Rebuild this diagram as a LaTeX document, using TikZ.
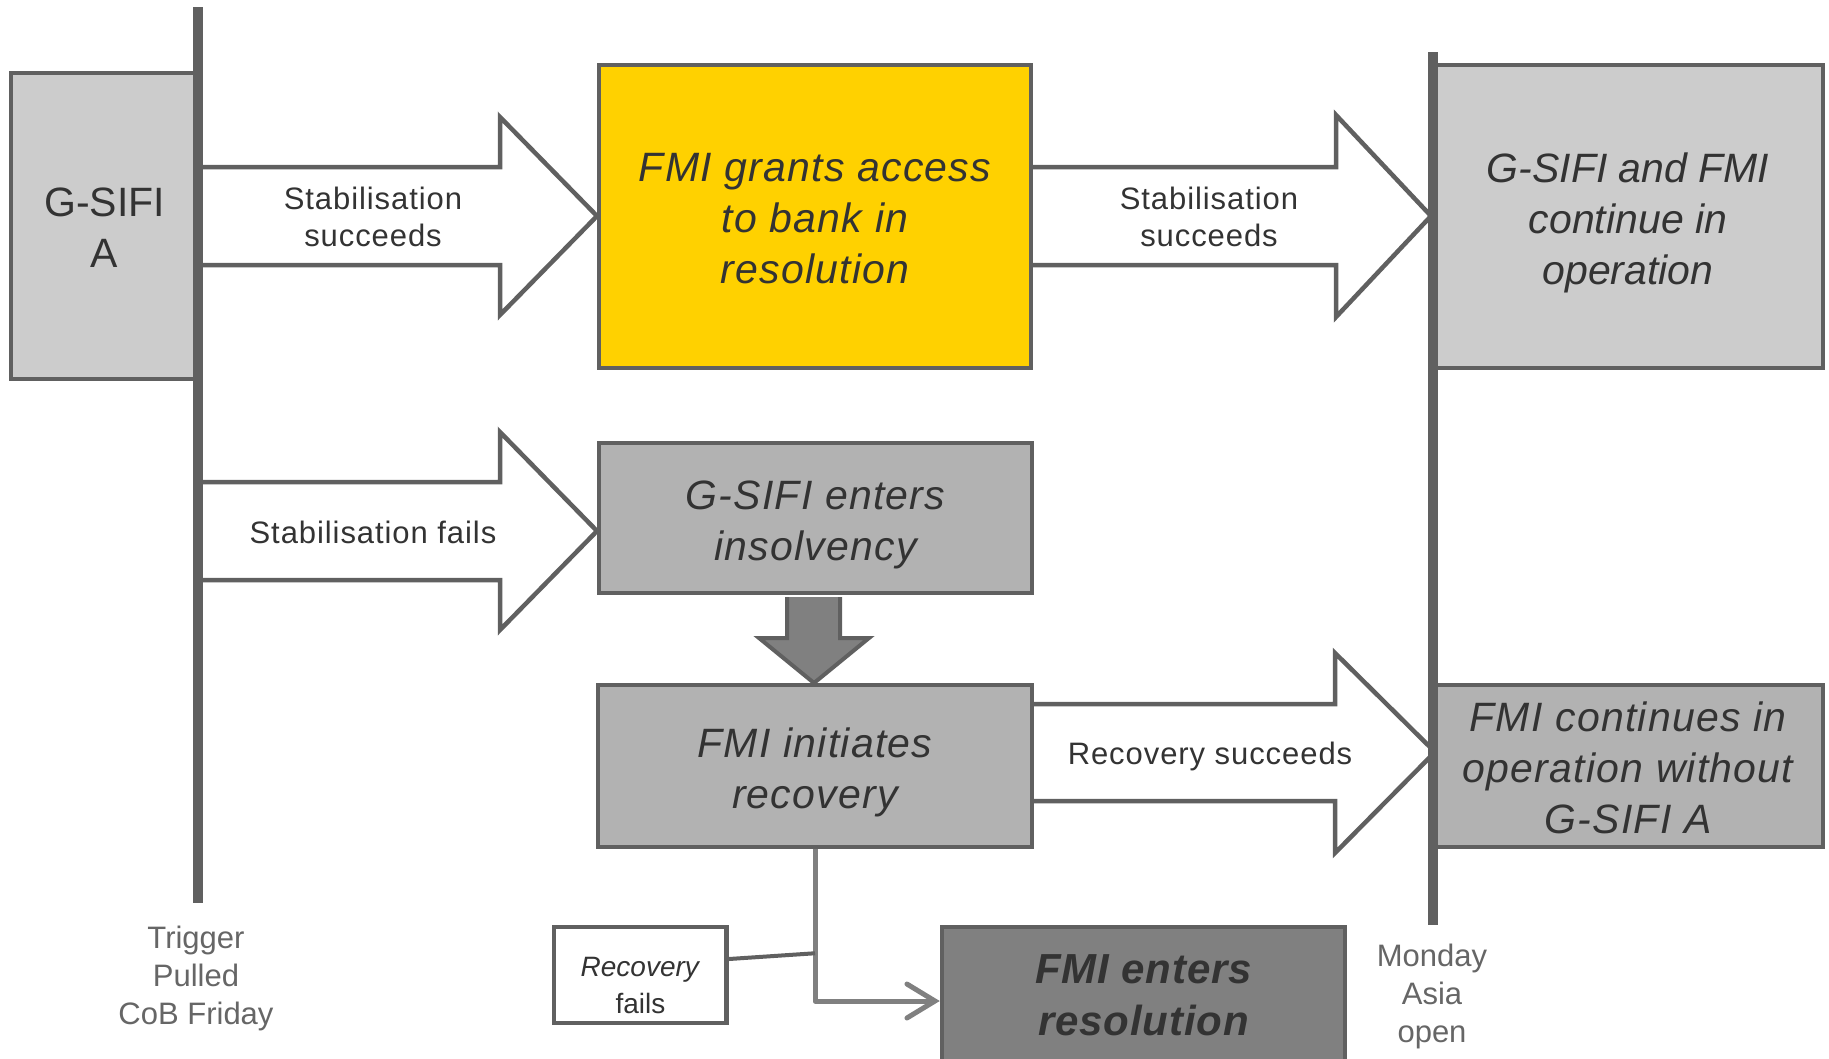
\documentclass[tikz,border=0pt]{standalone}
\usepackage{fontspec}
\setmainfont{Liberation Sans}
\usetikzlibrary{arrows.meta,calc}
\definecolor{edge}{HTML}{606060}
\definecolor{lightfill}{HTML}{CCCCCC}
\definecolor{midfill}{HTML}{B2B2B2}
\definecolor{darkfill}{HTML}{808080}
\definecolor{goldfill}{HTML}{FFD100}
\definecolor{txt}{HTML}{333333}
\definecolor{softtxt}{HTML}{666666}
\definecolor{linkgray}{HTML}{808080}
\begin{document}
\begin{tikzpicture}[x=1pt,y=-1pt,
  box/.style={draw=edge, line width=4.5pt, inner sep=0pt},
  boxtext/.style={text=txt, align=center, inner sep=0pt,
    font=\fontsize{41}{51}\selectfont\itshape\addfontfeature{LetterSpace=3}},
  blockarrow/.style={draw=edge, fill=white, line width=4.5pt, line join=miter},
  downarrow/.style={draw=edge, fill=darkfill, line width=4pt, line join=miter},
  arrowlabel/.style={text=txt, align=center,
    font=\fontsize{31}{37}\selectfont\addfontfeature{LetterSpace=3}},
  timeline/.style={draw=edge, line width=10.5pt},
  timelabel/.style={text=softtxt, align=center, font=\fontsize{31}{38}\selectfont},
  link/.style={draw=linkgray, line width=5pt, line join=round,
    -{Straight Barb[length=28pt,width=34pt,line cap=round]}},
  tie/.style={draw=edge, line width=4pt}]
\useasboundingbox (0,0) rectangle (1829,1058);
\fill[white] (0,0) rectangle (1829,1058);

% block arrows
\path[blockarrow] (198,167) -- (500,167) -- (500,117) -- (597,216) -- (500,315) -- (500,265) -- (198,265);
\path[blockarrow] (1033,167) -- (1336,167) -- (1336,115) -- (1431,216) -- (1336,317) -- (1336,265) -- (1033,265);
\path[blockarrow] (198,482) -- (500,482) -- (500,432) -- (597,531) -- (500,630) -- (500,580) -- (198,580);
\path[blockarrow] (1034,704) -- (1335,704) -- (1335,653) -- (1435,752) -- (1335,853) -- (1335,801) -- (1034,801);
\path[downarrow] (787,597) -- (787,638) -- (759,638) -- (814,683) -- (869,638) -- (840,638) -- (840,597);

% boxes
\node[box, fill=lightfill, minimum width=187pt, minimum height=306pt,
  label={[boxtext, font=\fontsize{41}{51}\selectfont, yshift=-2pt]center:{G-SIFI\\A}}]
  (gsifi) at (104.5,226) {};
\node[box, fill=goldfill, minimum width=432pt, minimum height=303pt,
  label={[boxtext, yshift=-2pt]center:{FMI grants access\\to bank in\\resolution}}]
  (grant) at (815,216.5) {};
\node[box, fill=lightfill, minimum width=390pt, minimum height=303pt,
  label={[boxtext, font=\fontsize{41}{51}\selectfont\itshape, yshift=-6pt]center:{G-SIFI and FMI\\continue in\\operation}}]
  (cont) at (1628,216.5) {};
\node[box, fill=midfill, minimum width=433pt, minimum height=150pt,
  label={[boxtext, yshift=-7pt]center:{G-SIFI enters\\insolvency}}]
  (insol) at (815.5,518) {};
\node[box, fill=midfill, minimum width=434pt, minimum height=162pt,
  label={[boxtext, yshift=-6pt]center:{FMI initiates\\recovery}}]
  (rec) at (815,766) {};
\node[box, fill=midfill, minimum width=390pt, minimum height=162pt,
  label={[boxtext, yshift=-2pt]center:{FMI continues in\\operation without\\G-SIFI A}}]
  (without) at (1628,766) {};
\node[box, fill=white, line width=4pt, minimum width=173pt, minimum height=96pt,
  label={[boxtext, font=\fontsize{28}{37}\selectfont, yshift=-10pt]center:{\textit{Recovery}\\fails}}]
  (rfail) at (640.5,975) {};
\node[box, fill=darkfill, minimum width=403pt, minimum height=148pt,
  label={[boxtext, font=\fontsize{42}{52}\selectfont\bfseries\itshape\addfontfeature{LetterSpace=2}, yshift=6pt]center:{FMI enters\\resolution}}]
  (res) at (1143.5,1001) {};
\draw[tie] ($(rfail.north east)+(-3,0)$) -- ($(rfail.south east)+(-3,0)$);

% timelines
\coordinate (ltop) at (198,7);
\coordinate (lbot) at (198,903);
\coordinate (rtop) at (1433,52);
\coordinate (rbot) at (1433,925);
\draw[timeline] (ltop) -- (lbot);
\draw[timeline] (rtop) -- (rbot);

% connectors
\coordinate (joint) at ($(rec.south)+(0,104)$);
\draw[link] (rec.south) |- (res.west);
\draw[tie] ($(rfail.north east)!0.34!(rfail.south east)$) -- (joint);

% labels
\node[arrowlabel] (l1) at (373,217) {Stabilisation\\succeeds};
\node[arrowlabel] (l2) at (1209,217) {Stabilisation\\succeeds};
\node[arrowlabel] (l3) at (373,532) {Stabilisation fails};
\node[arrowlabel] (l4) at (1210,756) {Recovery succeeds};
\node[timelabel] (t1) at (196,978) {Trigger\\Pulled\\CoB Friday};
\node[timelabel] (t2) at (1432,996) {Monday\\Asia\\open};
\end{tikzpicture}
\end{document}
